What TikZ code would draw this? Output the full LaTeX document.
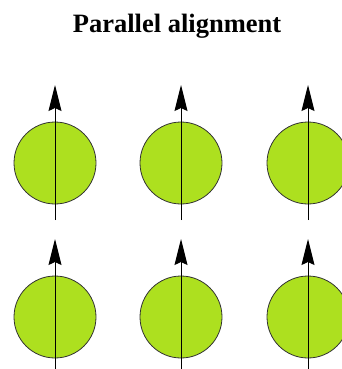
\documentclass[tikz,border=0pt]{standalone}
\usepackage{fontspec}
\setmainfont{Liberation Serif}
\usetikzlibrary{arrows.meta}
\definecolor{spingreen}{RGB}{173,224,31}
\begin{document}
\begin{tikzpicture}[x=1pt,y=-1pt,
  spin/.style={circle,draw=black!80,line width=0.8pt,fill=spingreen,minimum size=82pt,inner sep=0pt},
  axis/.style={line width=1pt,-{Stealth[length=26pt,width=13pt,inset=3pt]}}]
\useasboundingbox (0,0) rectangle (342,369);
\node[font=\bfseries\fontsize{26.5}{30}\selectfont,anchor=base] (title) at (177,33) {Parallel alignment};
\foreach \c/\x in {1/55,2/181,3/308}{
  \foreach \r/\y in {1/163,2/317}{
    \node[spin] (s\c\r) at (\x,\y) {};
    \coordinate (b\c\r) at (\x,\y+57);
    \coordinate (t\c\r) at (\x,\y-78);
    \draw[axis] (b\c\r) -- (t\c\r);
  }
}
\end{tikzpicture}
\end{document}
